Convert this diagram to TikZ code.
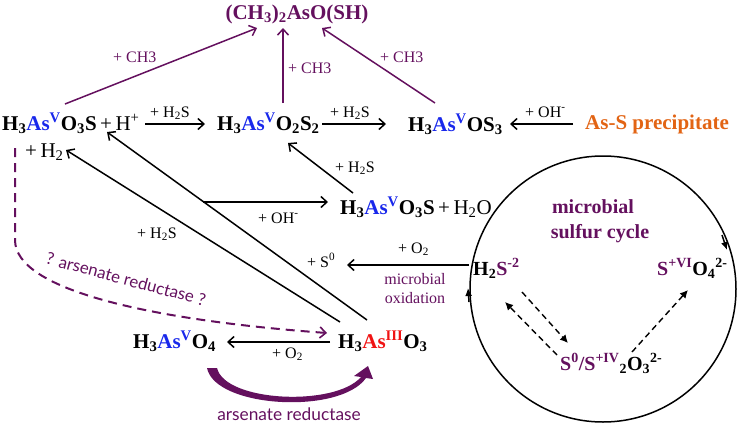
\documentclass[tikz,border=0pt]{standalone}
\usepackage{fontspec}
\setmainfont{Liberation Serif}
\newfontfamily\arfont{Lato}
\usetikzlibrary{arrows.meta}
\definecolor{pp}{RGB}{100,16,94}
\definecolor{asblue}{RGB}{25,40,235}
\definecolor{asred}{RGB}{240,20,20}
\definecolor{orng}{RGB}{226,100,20}
\newcommand{\AsV}{\textcolor{asblue}{As\textsuperscript{V}}}
\newcommand{\AsIII}{\textcolor{asred}{As\textsuperscript{III}}}
\newcommand{\sbs}[1]{\textsubscript{#1}}
\newcommand{\sps}[1]{\textsuperscript{#1}}
\tikzset{
  chem/.style={inner sep=0pt, anchor=base west, font=\fontsize{21}{25}\selectfont\bfseries},
  chs/.style={chem, font=\fontsize{20}{24}\selectfont\bfseries},
  lbl/.style={inner sep=0pt, anchor=base west, font=\fontsize{16}{19}\selectfont},
  conn/.style={line width=1.5pt, -{Straight Barb[length=6pt,width=11pt]}},
  meth/.style={conn, draw=pp},
  dsh/.style={line width=1.4pt, dash pattern=on 6pt off 4pt, -{Latex[length=8pt,width=8pt]}},
  cyc/.style={line width=1.5pt, -{Latex[length=8pt,width=7pt]}}
}
\begin{document}
\begin{tikzpicture}[x=1pt,y=-1pt]
\useasboundingbox (0,0) rectangle (737,426);
% main species
\node[chem, anchor=base, text=pp] (top) at (297,19) {(CH\sbs{3})\sbs{2}AsO(SH)};
\node[chem] (n1) at (2,130) {H\sbs{3}\AsV O\sbs{3}S\,{\mdseries+\,H\sps{+}}};
\node[chem] (n2) at (217,130) {H\sbs{3}\AsV O\sbs{2}S\sbs{2}};
\node[chem] (n3) at (408,131) {H\sbs{3}\AsV OS\sbs{3}};
\node[chem, text=orng] (prec) at (585,129) {As-S precipitate};
\node[chem] (h2) at (25,157) {\mdseries+\,H\sbs{2}};
\node[chem] (n4) at (340,214) {H\sbs{3}\AsV O\sbs{3}S\,{\mdseries+\,H\sbs{2}O}};
\node[chem] (n5) at (133,348) {H\sbs{3}\AsV O\sbs{4}};
\node[chem] (n6) at (338,348) {H\sbs{3}\AsIII O\sbs{3}};
% sulfur cycle
\node[circle, draw, line width=1.5pt, minimum size=266pt, inner sep=0pt] (cyc) at (603,289) {};
\node[chs, anchor=base, text=pp] (mic) at (593,213) {microbial};
\node[chs, anchor=base, text=pp] (sul) at (600,238) {sulfur cycle};
\node[chs] (hs) at (473,275) {H\sbs{2}\textcolor{pp}{S\sps{-2}}};
\node[chs] (so4) at (657,275) {\textcolor{pp}{S\sps{+VI}}O\sbs{4}\sps{2-}};
\node[chs] (s0) at (560,370) {\textcolor{pp}{S\sps{0}/S\sps{+IV}}\sbs{2}O\sbs{3}\sps{2-}};
% labels
\node[lbl, text=pp] (l1) at (113,62) {+ CH3};
\node[lbl, text=pp] (l2) at (288,73) {+ CH3};
\node[lbl, text=pp] (l3) at (380,62) {+ CH3};
\node[lbl] (l4) at (150,117) {+ H\sbs{2}S};
\node[lbl] (l5) at (330,117) {+ H\sbs{2}S};
\node[lbl] (l6) at (525,117) {+ OH\sps{-}};
\node[lbl] (l7) at (335,172) {+ H\sbs{2}S};
\node[lbl] (l8) at (258,223) {+ OH\sps{-}};
\node[lbl] (l9) at (137,238) {+ H\sbs{2}S};
\node[lbl] (l10) at (398,253) {+ O\sbs{2}};
\node[lbl] (l11) at (307,267) {+ S\sps{0}};
\node[lbl, anchor=base, text=pp] (l12) at (415,284) {microbial};
\node[lbl, anchor=base, text=pp] (l13) at (415,303) {oxidation};
\node[lbl] (l14) at (272,358) {+ O\sbs{2}};
\node[inner sep=0pt, anchor=base, text=pp, font=\arfont\fontsize{17.3}{21}\selectfont] (ar) at (289,420) {arsenate reductase};
\node[inner sep=0pt, text=pp, font=\arfont\fontsize{16.8}{20}\selectfont, rotate=-15] (ar2) at (126,279) {? arsenate reductase ?};
% coordinates for connector ends
\coordinate (m1a) at (65,104); \coordinate (m1b) at (257,28);
\coordinate (m2a) at (283,103); \coordinate (m2b) at (283,28);
\coordinate (m3a) at (435,103); \coordinate (m3b) at (322,28);
\coordinate (r1a) at (145,124); \coordinate (r1b) at (205,124);
\coordinate (r2a) at (322,124); \coordinate (r2b) at (386,124);
\coordinate (r3a) at (573,124); \coordinate (r3b) at (510,124);
\coordinate (d1a) at (340,322); \coordinate (d1b) at (66,150);
\coordinate (d2a) at (367,320); \coordinate (d2b) at (107,132);
\coordinate (ha) at (203,202); \coordinate (hb) at (328,202);
\coordinate (ua) at (353,193); \coordinate (ub) at (288,143);
\coordinate (oa) at (469,265); \coordinate (ob) at (347,265);
\coordinate (ba) at (330,342); \coordinate (bb) at (227,342);
\coordinate (qa) at (15,148); \coordinate (qm) at (15,240); \coordinate (qb) at (327,333);
% methylation arrows
\draw[meth] (m1a) -- (m1b);
\draw[meth] (m2a) -- (m2b);
\draw[meth] (m3a) -- (m3b);
% black arrows
\draw[conn] (r1a) -- (r1b);
\draw[conn] (r2a) -- (r2b);
\draw[conn] (r3a) -- (r3b);
\draw[conn] (d1a) -- (d1b);
\draw[conn] (d2a) -- (d2b);
\draw[conn] (ha) -- (hb);
\draw[conn] (ua) -- (ub);
\draw[conn] (oa) -- (ob);
\draw[conn] (ba) -- (bb);
% dashed purple
\draw[pp, line width=2pt, dash pattern=on 9pt off 6pt, -{Straight Barb[length=6pt,width=11pt,line width=1.6pt]}]
  (qa) -- (qm) .. controls (15,290) and (150,320) .. (qb);
% thick reductase arrow
\fill[pp] (207,368) .. controls (215,408) and (340,415) .. (366,378) -- (373,379) -- (368,366)
  -- (354,376) -- (361,377) .. controls (335,407) and (225,402) .. (217,368) -- cycle;
% cycle arrows
\coordinate (c1a) at (469,302); \coordinate (c1b) at (468,288);
\coordinate (c2a) at (722,235); \coordinate (c2b) at (727,250);
\draw[cyc] (c1a) -- (c1b);
\draw[cyc] (c2a) -- (c2b);
% dashed black
\coordinate (e1a) at (522,292); \coordinate (e1b) at (568,343);
\coordinate (e2a) at (557,355); \coordinate (e2b) at (505,302);
\coordinate (e3a) at (632,352); \coordinate (e3b) at (688,290);
\draw[dsh] (e1a) -- (e1b);
\draw[dsh] (e2a) -- (e2b);
\draw[dsh] (e3a) -- (e3b);
\end{tikzpicture}
\end{document}
